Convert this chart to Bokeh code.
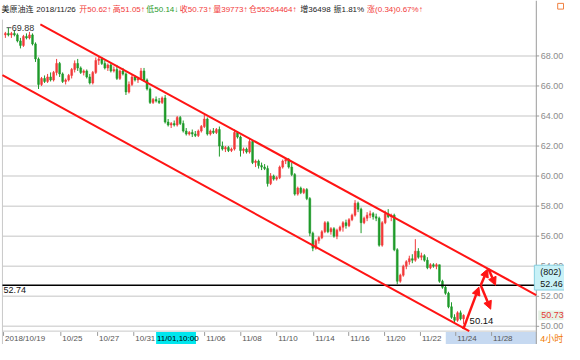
from bokeh.plotting import figure
from bokeh.models import Range1d, Arrow, NormalHead
from bokeh.core.properties import value
from bokeh.embed import file_html
from bokeh.resources import INLINE

# ---------------- data (4-hour candles, 美原油连) ----------------
opens = [69.4, 69.5, 69.4, 69.5, 69.4, 69.0, 68.7, 69.3, 69.2, 69.4,
         68.8, 67.8, 66.1, 66.5, 66.3, 66.6, 66.4, 66.9, 67.5, 66.8,
         66.3, 66.4, 66.7, 67.1, 67.5, 67.2, 66.9, 67.0, 66.6, 66.2,
         66.9, 67.7, 67.8, 67.5, 67.2, 67.4, 67.0, 67.1, 66.5, 67.0,
         66.8, 65.6, 66.1, 66.6, 66.4, 66.5, 67.0, 66.4, 65.8, 64.9,
         65.1, 65.0, 64.9, 65.2, 63.6, 63.4, 63.5, 63.4, 63.9, 63.5,
         63.0, 62.8, 62.9, 62.8, 62.7, 63.0, 63.3, 63.8, 62.8, 63.0,
         62.9, 63.1, 62.0, 61.8, 61.9, 61.7, 61.8, 62.9, 62.6, 61.7,
         61.8, 61.6, 62.3, 60.9, 61.0, 60.7, 60.6, 60.5, 59.5, 60.0,
         59.8, 59.9, 60.6, 61.0, 61.1, 60.6, 60.1, 58.8, 59.2, 58.9,
         59.1, 58.5, 56.2, 55.2, 55.7, 55.9, 56.3, 56.9, 56.3, 56.5,
         56.0, 56.4, 56.6, 56.9, 56.7, 57.1, 57.4, 58.2, 57.8, 56.9,
         57.2, 57.4, 57.5, 57.3, 57.2, 55.4, 56.9, 57.5, 57.3, 57.4,
         55.1, 53.0, 53.4, 54.0, 54.3, 54.5, 54.4, 55.0, 54.6, 54.7,
         54.4, 53.9, 54.1, 54.0, 54.1, 53.0, 52.6, 52.2, 51.3, 50.6,
         50.4, 50.9, 50.5]
highs = [69.6, 69.88, 69.6, 69.7, 69.5, 69.2, 69.4, 69.5, 69.6, 69.5,
         68.9, 67.9, 66.6, 66.7, 66.8, 66.9, 67.0, 67.8, 67.6, 66.9,
         66.5, 66.8, 67.2, 67.7, 67.8, 67.3, 67.1, 67.1, 66.8, 67.0,
         67.9, 68.0, 67.9, 67.7, 67.5, 67.5, 67.3, 67.4, 67.1, 67.2,
         66.9, 66.3, 66.8, 66.7, 66.6, 67.2, 67.2, 66.5, 65.9, 65.2,
         65.3, 65.2, 65.3, 65.4, 63.8, 63.6, 63.7, 64.0, 64.0, 63.7,
         63.2, 63.0, 63.1, 63.0, 63.1, 63.4, 64.1, 63.9, 63.1, 63.2,
         63.2, 63.3, 62.3, 62.0, 62.0, 61.9, 63.1, 63.0, 62.7, 61.9,
         61.9, 62.5, 62.4, 61.1, 61.1, 60.9, 60.8, 60.7, 60.2, 60.1,
         60.0, 60.7, 61.1, 61.2, 61.2, 60.9, 60.2, 59.3, 59.3, 59.2,
         59.2, 58.6, 56.3, 55.8, 56.0, 56.4, 57.0, 57.0, 56.6, 56.6,
         56.5, 56.7, 57.0, 57.1, 57.2, 57.5, 58.4, 58.3, 57.9, 57.3,
         57.6, 57.7, 57.6, 57.5, 57.3, 57.0, 57.7, 57.8, 57.5, 57.5,
         55.2, 53.5, 54.1, 54.4, 54.7, 54.8, 55.8, 55.2, 54.9, 54.8,
         54.6, 54.2, 54.2, 54.2, 54.1, 53.1, 52.7, 52.3, 51.6, 50.8,
         51.0, 51.05, 50.8]
lows = [69.2, 69.3, 69.2, 69.3, 68.9, 68.5, 68.6, 69.1, 69.1, 68.7,
        67.6, 65.8, 66.0, 66.2, 66.2, 66.3, 66.3, 66.7, 66.6, 66.2,
        66.1, 66.3, 66.5, 66.9, 67.0, 66.8, 66.7, 66.5, 66.1, 66.1,
        66.8, 67.4, 67.4, 67.1, 67.0, 66.9, 66.9, 66.4, 66.4, 66.7,
        65.4, 65.5, 66.0, 66.3, 66.2, 66.4, 66.3, 65.7, 64.8, 64.8,
        64.9, 64.8, 64.8, 63.5, 63.3, 63.2, 63.3, 63.3, 63.4, 62.9,
        62.7, 62.7, 62.6, 62.6, 62.6, 62.9, 63.2, 62.7, 62.7, 62.8,
        62.8, 61.3, 61.7, 61.6, 61.6, 61.6, 61.7, 62.5, 61.3, 61.5,
        61.5, 61.5, 60.8, 60.6, 60.5, 60.4, 60.4, 59.3, 59.4, 59.7,
        59.7, 59.8, 60.5, 60.8, 60.5, 60.0, 58.7, 58.7, 58.8, 58.8,
        58.4, 56.0, 55.0, 55.1, 55.5, 55.8, 56.2, 56.2, 56.1, 55.9,
        55.8, 56.3, 56.3, 56.5, 56.6, 57.0, 57.3, 57.6, 56.2, 56.8,
        57.0, 57.2, 57.1, 57.0, 55.3, 55.3, 56.8, 57.2, 57.0, 55.0,
        52.8, 52.9, 53.3, 53.8, 54.1, 54.2, 54.3, 54.5, 54.4, 54.3,
        53.8, 53.8, 53.9, 53.8, 52.9, 52.5, 52.1, 51.2, 50.5, 50.2,
        50.3, 50.4, 50.14]
closes = [69.5, 69.4, 69.5, 69.4, 69.0, 68.7, 69.3, 69.2, 69.4, 68.8,
          67.8, 66.1, 66.5, 66.3, 66.6, 66.4, 66.9, 67.5, 66.8, 66.3,
          66.4, 66.7, 67.1, 67.5, 67.2, 66.9, 67.0, 66.6, 66.2, 66.9,
          67.7, 67.8, 67.5, 67.2, 67.4, 67.0, 67.1, 66.5, 67.0, 66.8,
          65.6, 66.1, 66.6, 66.4, 66.5, 67.0, 66.4, 65.8, 64.9, 65.1,
          65.0, 64.9, 65.2, 63.6, 63.4, 63.5, 63.4, 63.9, 63.5, 63.0,
          62.8, 62.9, 62.8, 62.7, 63.0, 63.3, 63.8, 62.8, 63.0, 62.9,
          63.1, 62.0, 61.8, 61.9, 61.7, 61.8, 62.9, 62.6, 61.7, 61.8,
          61.6, 62.3, 60.9, 61.0, 60.7, 60.6, 60.5, 59.5, 60.0, 59.8,
          59.9, 60.6, 61.0, 61.1, 60.6, 60.1, 58.8, 59.2, 58.9, 59.1,
          58.5, 56.2, 55.2, 55.7, 55.9, 56.3, 56.9, 56.3, 56.5, 56.0,
          56.4, 56.6, 56.9, 56.7, 57.1, 57.4, 58.2, 57.8, 56.9, 57.2,
          57.4, 57.5, 57.3, 57.2, 55.4, 56.9, 57.5, 57.3, 57.4, 55.1,
          53.0, 53.4, 54.0, 54.3, 54.5, 54.4, 55.0, 54.6, 54.7, 54.4,
          53.9, 54.1, 54.0, 54.1, 53.0, 52.6, 52.2, 51.3, 50.6, 50.4,
          50.9, 50.5, 50.73]

price_ticks = [50, 52, 54, 56, 58, 60, 62, 64, 66, 68]
date_tick_pos = [-0.6, 18.4, 30.6, 42.6, 66.1, 78.1, 90.0, 102.3, 113.9, 125.8, 137.7, 149.4, 161.3]
date_tick_labels = ["2018/10/19", "10/25", "10/27", "10/31", "11/06", "11/08", "11/10",
                    "11/14", "11/16", "11/20", "11/22", "11/24", "11/28"]
cursor_pos = 50.0
cursor_label = "11/01,10:00"
future_start = 146.1

# channel lines (candle index, price)
upper_channel_x = [11.6, 176.1]
upper_channel_y = [70.10, 52.08]
lower_channel_x = [-1.6, 159.7]
lower_channel_y = [66.79, 49.04]
support_level = 52.74
target_count = 802
target_price = 52.46
period_label = "4小时"

# projection arrows (start index, start price, end index, end price)
arrow_x0 = [151.9, 157.7, 160.3, 157.7]
arrow_y0 = [49.81, 52.73, 53.81, 52.73]
arrow_x1 = [157.1, 160.0, 162.6, 161.0]
arrow_y1 = [52.61, 53.81, 52.73, 51.14]

title_parts = ["美原油连", "2018/11/26", "开50.62↑", "高51.05↑", "低50.14↓", "收50.73↑",
               "量39773↑", "仓55264464↑", "增36498", "振1.81%", "涨(0.34)0.67%↑"]
title_gap_after = [1, 1, 0, 0, 0, 0, 0, 1, 1, 1, 0]   # a space follows these parts

# ---------------- layout helpers (reference-pixel -> data) ----------------
W, H = 564, 344
PX_PER_BAR = 3.1
PX_PER_UNIT = 15.72
SCALE_X = W / 580.0


def dx(px):
    return (px - 5) / PX_PER_BAR


def dy(py):
    return 68 - (py - 58) / PX_PER_UNIT


FL, FR, FT, FB = dx(2), dx(551), dy(20), dy(346)   # price-panel box

FONT = "Liberation Sans, Arial, Noto Sans CJK SC, sans-serif"
RED = "#f23a3a"
GREEN = "#1f9a2a"
CH_RED = "#ff1414"
GRAY = "#9a9a9a"
TITLE_SIZE = 8.0


def text_width(s, size):
    w = 0.0
    for ch in s:
        if ord(ch) > 0x2E80:
            w += 1.0
        elif ch in "↑↓":
            w += 0.62
        elif ch.isdigit():
            w += 0.556
        elif ch in "./ ":
            w += 0.278
        elif ch in "()":
            w += 0.333
        elif ch == "%":
            w += 0.889
        else:
            w += 0.6
    return w * size


p = figure(width=W, height=H, output_backend="svg", toolbar_location=None,
           x_range=Range1d(dx(0), dx(580)), y_range=Range1d(dy(360), dy(0)),
           min_border=0, x_axis_location=None, y_axis_location=None)
p.outline_line_color = None
p.background_fill_color = "white"
p.border_fill_color = "white"
for g in p.grid:
    g.visible = False

# time strip: future band + cursor box
p.quad(left=[future_start], right=[FR], bottom=[dy(360)], top=[dy(347)],
       fill_color="#c6d9f1", line_color=None)
p.quad(left=[cursor_pos], right=[cursor_pos + dx(201) - dx(160)], bottom=[dy(360)], top=[dy(347)],
       fill_color="#00e6ee", line_color=None)

# horizontal grid
p.segment(x0=[FL] * len(price_ticks), y0=price_ticks, x1=[FR] * len(price_ticks), y1=price_ticks,
          line_color="#d8d8d8", line_width=1.5)

# panel borders / axis lines
p.segment(x0=[FL, FR, FL], y0=[FT, dy(0), FB], x1=[FL, FR, FR], y1=[dy(360), dy(360), FB],
          line_color=["#c8c8c8", GRAY, "#c8c8c8"], line_width=1)

# small window icon, top right
p.quad(left=[dx(573)], right=[dx(579)], bottom=[dy(9)], top=[dy(3)],
       fill_color=None, line_color="#f08040", line_width=1)

# price axis ticks + labels
p.segment(x0=[FR] * len(price_ticks), y0=price_ticks, x1=[dx(554)] * len(price_ticks), y1=price_ticks,
          line_color=GRAY, line_width=1)
p.text(x=[dx(555.5)] * len(price_ticks), y=price_ticks, text=["%.2f" % t for t in price_ticks],
       text_font=value(FONT), text_font_size="9px", text_color="#8c8c8c",
       text_align="left", text_baseline="middle")

# date ticks + labels
p.segment(x0=date_tick_pos, y0=[dy(347)] * len(date_tick_pos), x1=date_tick_pos,
          y1=[dy(351)] * len(date_tick_pos), line_color=GRAY, line_width=1)
p.text(x=[t + 0.5 for t in date_tick_pos], y=[dy(354)] * len(date_tick_pos), text=date_tick_labels,
       text_font=value(FONT), text_font_size="8px", text_color="#555555",
       text_align="left", text_baseline="middle")
p.text(x=[cursor_pos + 0.3], y=[dy(354)], text=[cursor_label], text_font=value(FONT),
       text_font_size="8px", text_color="#000000", text_align="left", text_baseline="middle")
p.text(x=[dx(555)], y=[dy(354)], text=[period_label], text_font=value(FONT),
       text_font_size="9px", text_color="#f07800", text_align="left", text_baseline="middle")

# candles
idx = list(range(len(closes)))
inc = [i for i in idx if closes[i] >= opens[i]]
dec = [i for i in idx if closes[i] < opens[i]]
for sel, col in ((inc, RED), (dec, GREEN)):
    p.segment(x0=sel, y0=[lows[i] for i in sel], x1=sel, y1=[highs[i] for i in sel],
              line_color=col, line_width=1)
    p.vbar(x=sel, width=0.62, bottom=[min(opens[i], closes[i]) for i in sel],
           top=[max(opens[i], closes[i]) for i in sel], fill_color=col, line_color=col, line_width=0.5)

# support line
p.segment(x0=[FL], y0=[support_level], x1=[FR], y1=[support_level], line_color="black", line_width=1.5)
p.text(x=[dx(3)], y=[support_level], y_offset=2, text=["%.2f" % support_level],
       text_font=value(FONT), text_font_size="9px", text_color="#111111",
       text_align="left", text_baseline="top")

# channel lines, clipped to the price panel
lo_slope = (lower_channel_y[1] - lower_channel_y[0]) / (lower_channel_x[1] - lower_channel_x[0])
lo_x0 = FL
lo_y0 = lower_channel_y[0] + lo_slope * (FL - lower_channel_x[0])
lo_x1 = lower_channel_x[0] + (FB - lower_channel_y[0]) / lo_slope
p.line(upper_channel_x, upper_channel_y, line_color=CH_RED, line_width=2)
p.line([lo_x0, lo_x1], [lo_y0, FB], line_color=CH_RED, line_width=2)

# projection arrows
for x0, y0, x1, y1 in zip(arrow_x0, arrow_y0, arrow_x1, arrow_y1):
    p.add_layout(Arrow(end=NormalHead(size=8, fill_color=CH_RED, line_color=CH_RED),
                       x_start=x0, y_start=y0, x_end=x1, y_end=y1,
                       line_color=CH_RED, line_width=2.5))

# high / low marks
hi_i = highs.index(max(highs))
lo_i = lows.index(min(lows))
p.segment(x0=[hi_i - 0.6], y0=[max(highs)], x1=[hi_i + 1.0], y1=[max(highs)],
          line_color="#555555", line_width=1)
p.text(x=[hi_i + 1.1], y=[max(highs)], text=["%.2f" % max(highs)], text_font=value(FONT),
       text_font_size="9px", text_color="#333333", text_align="left", text_baseline="middle")
p.text(x=[lo_i + 2.0], y=[min(lows)], text=["%.2f" % min(lows)], text_font=value(FONT),
       text_font_size="9.5px", text_color="#111111", text_align="left", text_baseline="bottom")

# right-side price boxes
p.quad(left=[dx(549)], right=[dx(580)], bottom=[dy(303)], top=[dy(277)],
       fill_color="#c8f1f7", line_color="#86cfe0", line_width=1)
p.text(x=[dx(555)] * 2, y=[dy(284), dy(297)], text=["(%d)" % target_count, "%.2f" % target_price],
       text_font=value(FONT), text_font_size="9px", text_color="#111111",
       text_align="left", text_baseline="middle")
p.quad(left=[dx(553)], right=[dx(579)], bottom=[closes[-1] - 0.32], top=[closes[-1] + 0.32],
       fill_color="#e6f2e6", line_color=None)
p.text(x=[dx(556)], y=[closes[-1]], text=["%.2f" % closes[-1]], text_font=value(FONT),
       text_font_size="9px", text_color="#e53935", text_align="left", text_baseline="middle")

# title row: parts flow one after another
title_col = ["#222222", "#222222", RED, RED, GREEN, RED, RED, RED, "#222222", "#222222", RED]
cur = 1.0 * SCALE_X
title_xs = []
for part, gap in zip(title_parts, title_gap_after):
    title_xs.append(dx(cur / SCALE_X))
    cur += text_width(part, TITLE_SIZE) + 0.5 + gap * 0.3 * TITLE_SIZE
p.text(x=title_xs, y=[dy(9.5)] * len(title_xs), text=title_parts,
       text_font=value(FONT), text_font_size="%.1fpx" % TITLE_SIZE, text_color=title_col,
       text_align="left", text_baseline="middle")

open("out.html", "w").write(file_html(p, INLINE))
